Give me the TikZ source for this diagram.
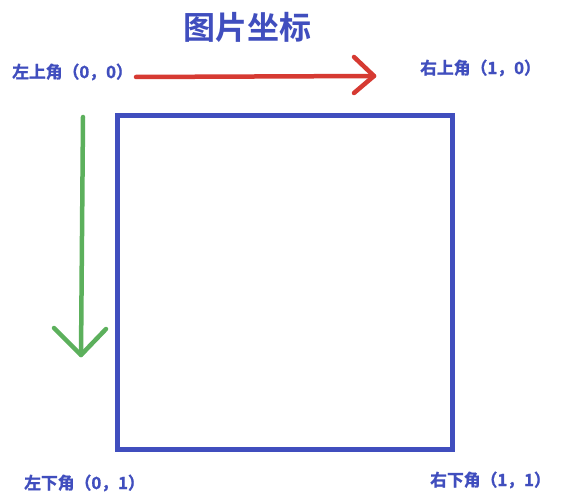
\documentclass[tikz,border=0pt]{standalone}
\usepackage{fontspec}
\newfontfamily\cjkb[BoldFont={Noto Sans CJK SC Bold}]{Noto Sans CJK SC}
\newfontfamily\cjkl[BoldFont={Noto Sans CJK SC Bold},BoldFeatures={FakeBold=1.2}]{Noto Sans CJK SC}
\definecolor{myblue}{RGB}{64,78,190}
\definecolor{myred}{RGB}{214,58,50}
\definecolor{mygreen}{RGB}{92,176,92}
\tikzset{
  lbl/.style={anchor=west,inner sep=0pt,text=myblue,font=\cjkl\bfseries\fontsize{16.8}{17}\selectfont},
  ttl/.style={inner sep=0pt,text=myblue,font=\cjkb\bfseries\fontsize{32}{32}\selectfont},
  redarrow/.style={draw=myred,line width=4.5pt,line cap=round,line join=round},
  greenarrow/.style={draw=mygreen,line width=4.5pt,line cap=round,line join=round},
  frame/.style={draw=myblue,line width=5pt}
}
\begin{document}
\begin{tikzpicture}[x=1pt,y=-1pt]
\useasboundingbox (0,0) rectangle (569,494);
\fill[white] (0,0) rectangle (569,494);
\node[ttl] (title) at (247,27) {图片坐标};
\node[lbl] (tl) at (12,72) {左上角（0，0）};
\node[lbl] (tr) at (420,68) {右上角（1，0）};
\node[lbl] (bl) at (24,483) {左下角（0，1）};
\node[lbl] (br) at (430,480) {右下角（1，1）};
\node[frame,minimum width=335pt,minimum height=334pt,inner sep=0pt] (sq) at (285,282.5) {};
% red arrow
\coordinate (rs) at (136,77);
\coordinate (re) at (374,76);
\coordinate (ra) at (354,57);
\coordinate (rb) at (354,93);
\draw[redarrow] (rs) -- (re);
\draw[redarrow] (ra) -- (re) -- (rb);
% green arrow
\coordinate (gs) at (83,117);
\coordinate (ge) at (81,355);
\coordinate (ga) at (54,328);
\coordinate (gb) at (106,329);
\draw[greenarrow] (gs) -- (ge);
\draw[greenarrow] (ga) -- (ge) -- (gb);
\end{tikzpicture}
\end{document}
